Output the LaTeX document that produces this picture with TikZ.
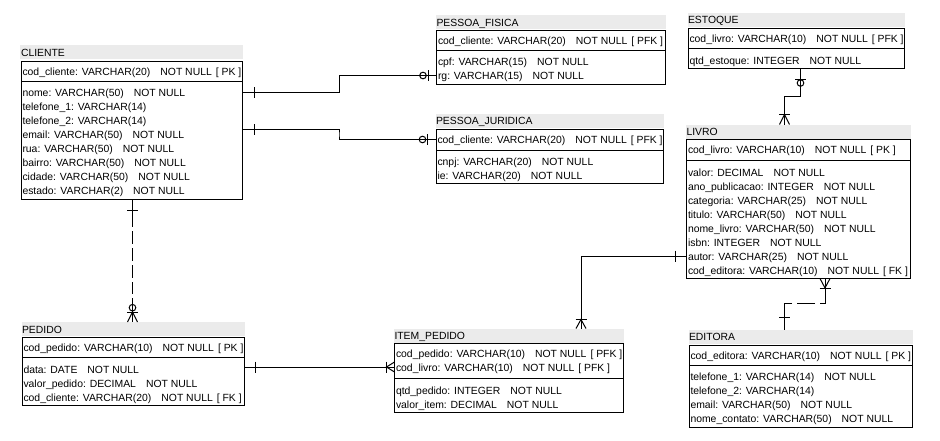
\documentclass[tikz,border=0pt]{standalone}
\usepackage{fontspec}
\setmainfont{Liberation Sans}
\usetikzlibrary{calc}
\definecolor{titlegray}{RGB}{235,235,235}
\newcommand{\colNN}{\hspace{10pt}NOT NULL}
\newcommand{\colKey}[1]{\hspace{4pt}[ #1 ]}
\begin{document}
\begin{tikzpicture}[x=1pt,y=-1pt,
  font=\fontsize{10.4pt}{12pt}\selectfont,
  ent/.style={draw=black, line width=1pt, fill=white, inner sep=0pt, outer sep=0pt, anchor=north west, rectangle},
  ttl/.style={fill=titlegray, inner sep=0pt, outer sep=0pt, anchor=north west, rectangle, minimum height=14pt},
  row/.style={inner sep=0pt, outer sep=0pt, anchor=west, text height=8pt, text depth=0pt},
  rel/.style={draw=black, line width=1pt}]
\fill[white] (0,0) rectangle (940,440);
\useasboundingbox (0,0) rectangle (940,440);

% ---------------- CLIENTE
\node[ttl, minimum width=223pt] (cliT) at (20,45) {};
\node[row] (cliN) at (21,52) {CLIENTE};
\node[ent, minimum width=221pt, minimum height=137.5pt] (cli) at (21,61.5) {};
\draw[rel] ($(cli.north west)+(0,20)$) -- ($(cli.north east)+(0,20)$);
\node[row] (cliK) at (22.5,71.5) {cod\_cliente: VARCHAR(20)\colNN\colKey{PK}};
\node[row] (cliR1) at (22.5,92.5) {nome: VARCHAR(50)\colNN};
\node[row] (cliR2) at (22.5,106.5) {telefone\_1: VARCHAR(14)};
\node[row] (cliR3) at (22.5,120.5) {telefone\_2: VARCHAR(14)};
\node[row] (cliR4) at (22.5,134.5) {email: VARCHAR(50)\colNN};
\node[row] (cliR5) at (22.5,148.5) {rua: VARCHAR(50)\colNN};
\node[row] (cliR6) at (22.5,162.5) {bairro: VARCHAR(50)\colNN};
\node[row] (cliR7) at (22.5,176.5) {cidade: VARCHAR(50)\colNN};
\node[row] (cliR8) at (22.5,190.5) {estado: VARCHAR(2)\colNN};

% ---------------- PESSOA_FISICA
\node[ttl, minimum width=229.5pt] (pfT) at (436,15) {};
\node[row] (pfN) at (436.5,22) {PESSOA\_FISICA};
\node[ent, minimum width=228.5pt, minimum height=53.5pt] (pf) at (436.5,30.5) {};
\draw[rel] ($(pf.north west)+(0,19.5)$) -- ($(pf.north east)+(0,19.5)$);
\node[row] (pfK) at (438,40) {cod\_cliente: VARCHAR(20)\colNN\colKey{PFK}};
\node[row] (pfR1) at (438,61.5) {cpf: VARCHAR(15)\colNN};
\node[row] (pfR2) at (438,75.5) {rg: VARCHAR(15)\colNN};

% ---------------- PESSOA_JURIDICA
\node[ttl, minimum width=228.5pt] (pjT) at (435.5,113.5) {};
\node[row] (pjN) at (436,120.5) {PESSOA\_JURIDICA};
\node[ent, minimum width=227.5pt, minimum height=54pt] (pj) at (436,129.5) {};
\draw[rel] ($(pj.north west)+(0,20.5)$) -- ($(pj.north east)+(0,20.5)$);
\node[row] (pjK) at (437.5,139.5) {cod\_cliente: VARCHAR(20)\colNN\colKey{PFK}};
\node[row] (pjR1) at (437.5,161) {cnpj: VARCHAR(20)\colNN};
\node[row] (pjR2) at (437.5,175) {ie: VARCHAR(20)\colNN};

% ---------------- ESTOQUE
\node[ttl, minimum width=217pt] (estT) at (687.5,12.5) {};
\node[row] (estN) at (688,19.5) {ESTOQUE};
\node[ent, minimum width=216pt, minimum height=40pt] (est) at (688,28.5) {};
\draw[rel] ($(est.north west)+(0,20)$) -- ($(est.north east)+(0,20)$);
\node[row] (estK) at (689.5,38.5) {cod\_livro: VARCHAR(10)\colNN\colKey{PFK}};
\node[row] (estR1) at (689.5,60) {qtd\_estoque: INTEGER\colNN};

% ---------------- LIVRO
\node[ttl, minimum width=225pt] (livT) at (686,124.5) {};
\node[row] (livN) at (686.5,131.5) {LIVRO};
\node[ent, minimum width=224pt, minimum height=139pt] (liv) at (686.5,139.5) {};
\draw[rel] ($(liv.north west)+(0,20.5)$) -- ($(liv.north east)+(0,20.5)$);
\node[row] (livK) at (688,149.5) {cod\_livro: VARCHAR(10)\colNN\colKey{PK}};
\node[row] (livR1) at (688,172) {valor: DECIMAL\colNN};
\node[row] (livR2) at (688,186) {ano\_publicacao: INTEGER\colNN};
\node[row] (livR3) at (688,200) {categoria: VARCHAR(25)\colNN};
\node[row] (livR4) at (688,214) {titulo: VARCHAR(50)\colNN};
\node[row] (livR5) at (688,228) {nome\_livro: VARCHAR(50)\colNN};
\node[row] (livR6) at (688,242) {isbn: INTEGER\colNN};
\node[row] (livR7) at (688,256) {autor: VARCHAR(25)\colNN};
\node[row] (livR8) at (688,270) {cod\_editora: VARCHAR(10)\colNN\colKey{FK}};

% ---------------- EDITORA
\node[ttl, minimum width=224.5pt] (ediT) at (688.5,329.5) {};
\node[row] (ediN) at (689,336.5) {EDITORA};
\node[ent, minimum width=223.5pt, minimum height=81.5pt] (edi) at (689,345.5) {};
\draw[rel] ($(edi.north west)+(0,20)$) -- ($(edi.north east)+(0,20)$);
\node[row] (ediK) at (690.5,355) {cod\_editora: VARCHAR(10)\colNN\colKey{PK}};
\node[row] (ediR1) at (690.5,376.5) {telefone\_1: VARCHAR(14)\colNN};
\node[row] (ediR2) at (690.5,390.5) {telefone\_2: VARCHAR(14)};
\node[row] (ediR3) at (690.5,404.5) {email: VARCHAR(50)\colNN};
\node[row] (ediR4) at (690.5,418.5) {nome\_contato: VARCHAR(50)\colNN};

% ---------------- PEDIDO
\node[ttl, minimum width=223.5pt] (pedT) at (21.5,322) {};
\node[row] (pedN) at (22,329) {PEDIDO};
\node[ent, minimum width=222.5pt, minimum height=68pt] (ped) at (22,337.5) {};
\draw[rel] ($(ped.north west)+(0,20)$) -- ($(ped.north east)+(0,20)$);
\node[row] (pedK) at (23.5,347) {cod\_pedido: VARCHAR(10)\colNN\colKey{PK}};
\node[row] (pedR1) at (23.5,369) {data: DATE\colNN};
\node[row] (pedR2) at (23.5,383) {valor\_pedido: DECIMAL\colNN};
\node[row] (pedR3) at (23.5,397) {cod\_cliente: VARCHAR(20)\colNN\colKey{FK}};

% ---------------- ITEM_PEDIDO
\node[ttl, minimum width=230pt] (itmT) at (394,328.5) {};
\node[row] (itmN) at (394.5,335.5) {ITEM\_PEDIDO};
\node[ent, minimum width=229pt, minimum height=69pt] (itm) at (394.5,343.5) {};
\draw[rel] ($(itm.north west)+(0,35)$) -- ($(itm.north east)+(0,35)$);
\node[row] (itmK1) at (396,353) {cod\_pedido: VARCHAR(10)\colNN\colKey{PFK}};
\node[row] (itmK2) at (396,367) {cod\_livro: VARCHAR(10)\colNN\colKey{PFK}};
\node[row] (itmR1) at (396,390) {qtd\_pedido: INTEGER\colNN};
\node[row] (itmR2) at (396,404) {valor\_item: DECIMAL\colNN};

% ================= connectors
% CLIENTE - PESSOA_FISICA
\coordinate (a1) at (cli.east |- cliR1.west);
\coordinate (b1) at (pf.west |- pfR2.west);
\draw[rel] (a1) -| ($(a1)!.5!(b1)$) |- (b1);
\draw[rel] ($(a1)+(12,-5.5)$) -- ($(a1)+(12,5.5)$);
\draw[rel] ($(b1)+(-8.5,-5.5)$) -- ($(b1)+(-8.5,5.5)$);
\draw[rel] ($(b1)+(-13.5,0)$) circle[radius=3.3pt];

% CLIENTE - PESSOA_JURIDICA
\coordinate (a2) at ($(cli.north east)+(0,68)$);
\coordinate (b2) at (pj.west |- pjK.west);
\draw[rel] (a2) -| ($(a2)!.5!(b2)$) |- (b2);
\draw[rel] ($(a2)+(12,-5.5)$) -- ($(a2)+(12,5.5)$);
\draw[rel] ($(b2)+(-8.5,-5.5)$) -- ($(b2)+(-8.5,5.5)$);
\draw[rel] ($(b2)+(-13.5,0)$) circle[radius=3.3pt];

% CLIENTE - PEDIDO
\coordinate (a3) at ($(cli.south)+(1,0)$);
\coordinate (b3) at (pedT.north -| a3);
\draw[rel, dash pattern=on 28pt off 4pt on 13pt off 4pt on 13pt off 4pt on 13pt off 4pt on 12pt off 4pt on 60pt] (a3) -- (b3);
\draw[rel] ($(a3)+(-5.5,11.5)$) -- ($(a3)+(5.5,11.5)$);
\draw[rel] ($(b3)+(-5,0)$) -- ($(b3)+(0,-10)$) -- ($(b3)+(5,0)$);
\draw[rel] ($(b3)+(-5.5,-10)$) -- ($(b3)+(5.5,-10)$);
\draw[rel] ($(b3)+(0,-14.3)$) circle[radius=3.3pt];

% ESTOQUE - LIVRO
\coordinate (a4) at ($(est.south)+(4.5,0)$);
\coordinate (b4) at ($(livT.north)+(-14,0)$);
\draw[rel] (a4) -- ++(0,28) -| (b4);
\draw[rel] ($(a4)+(-5.5,11)$) -- ($(a4)+(5.5,11)$);
\draw[rel] ($(a4)+(0,14.5)$) circle[radius=3.3pt];
\draw[rel] ($(b4)+(-5.5,-10)$) -- ($(b4)+(5.5,-10)$);
\draw[rel] ($(b4)+(-5,0)$) -- ($(b4)+(0,-10)$) -- ($(b4)+(5,0)$);

% LIVRO - ITEM_PEDIDO
\coordinate (a5) at (liv.west |- livR7.west);
\coordinate (b5) at ($(itmT.north west)+(187,0)$);
\draw[rel] (a5) -| (b5);
\draw[rel] ($(a5)+(-11.5,-5.5)$) -- ($(a5)+(-11.5,5.5)$);
\draw[rel] ($(b5)+(-5.5,-9)$) -- ($(b5)+(5.5,-9)$);
\draw[rel] ($(b5)+(-5,0)$) -- ($(b5)+(0,-9)$) -- ($(b5)+(5,0)$);

% PEDIDO - ITEM_PEDIDO
\coordinate (b6) at (itm.west |- itmK2.west);
\coordinate (a6) at (ped.east |- b6);
\draw[rel] (a6) -- (b6);
\draw[rel] ($(a6)+(10.5,-5.5)$) -- ($(a6)+(10.5,5.5)$);
\draw[rel] ($(b6)+(-8,-5.5)$) -- ($(b6)+(-8,5.5)$);
\draw[rel] ($(b6)+(0,-5)$) -- ($(b6)+(-8,0)$) -- ($(b6)+(0,5)$);

% LIVRO - EDITORA
\coordinate (a7) at ($(liv.south)+(26.5,0)$);
\coordinate (b7) at ($(ediT.north)+(-16.25,0)$);
\draw[rel, dash pattern=on 29.5pt off 5pt on 18pt off 5pt on 60pt] (a7) -- ++(0,24.5) -| (b7);
\draw[rel] ($(a7)+(-5,0)$) -- ($(a7)+(0,9.5)$) -- ($(a7)+(5,0)$);
\draw[rel] ($(a7)+(-5.5,10)$) -- ($(a7)+(5.5,10)$);
\draw[rel] ($(b7)+(-5.5,-12)$) -- ($(b7)+(5.5,-12)$);
\end{tikzpicture}
\end{document}
